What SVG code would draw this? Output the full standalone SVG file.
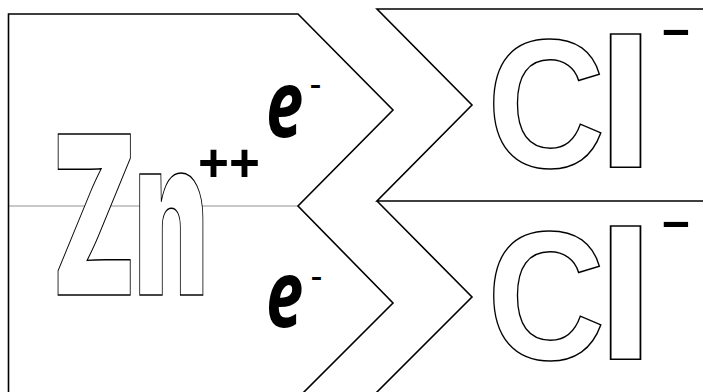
<svg xmlns="http://www.w3.org/2000/svg" width="703" height="392" viewBox="0 0 703 392">
<style>
.edge{fill:none;stroke:#000;stroke-width:1.6;stroke-linejoin:miter}
.divider{fill:none;stroke:#c8c8c8;stroke-width:1.8}
.outline{font-family:"Liberation Sans",Arial,sans-serif;font-weight:bold;fill:#fff;stroke:#000;stroke-width:1.5}
.heavy{font-family:Inter,"Liberation Sans",sans-serif;font-weight:900;fill:#fff;stroke:#000;stroke-width:1.5}
.plus{font-family:"Liberation Sans",Arial,sans-serif;font-weight:bold;fill:#000}
.elec{font-family:"Noto Sans","Liberation Sans",sans-serif;font-weight:bold;font-style:italic;fill:#000}
.sup{font-family:"Liberation Sans",Arial,sans-serif;fill:#000}
</style>
<rect width="703" height="392" fill="#fff"/>
<g id="connectors">
<path class="divider" d="M8.5,206 L298,206"/>
</g>
<g id="zn-piece">
<path class="edge" d="M8.5,393 L8.5,14 L298,14 L393,110 L298,206 L393,303 L297,399"/>
<text class="heavy" font-size="221" transform="translate(52,295) scale(0.55,1)">Z</text>
<text class="heavy" font-size="221" transform="translate(134,295) scale(0.52,1)">n</text>
<text class="plus" font-size="53" x="198" y="181">++</text>
<text class="elec" font-size="93" transform="translate(266,137) scale(0.72,1)">e</text>
<text class="sup" font-size="36" x="309.4" y="96">-</text>
<text class="elec" font-size="93" transform="translate(266,327) scale(0.72,1)">e</text>
<text class="sup" font-size="36" x="310.4" y="288">-</text>
</g>
<g id="cl-piece-top">
<path class="edge" d="M704,9 L377,9 L472,105 L377,201 L704,201"/>
<text class="outline" font-size="184" transform="translate(487,167) scale(0.89,1)">C</text>
<text class="outline" font-size="184" transform="translate(595.5,167) scale(1.18,1)">l</text>
<text class="plus" font-size="43" transform="translate(660,44) scale(2.23,1)">-</text>
</g>
<g id="cl-piece-bottom">
<path class="edge" d="M377,201 L472,297 L376,393"/>
<text class="outline" font-size="184" transform="translate(487,359) scale(0.89,1)">C</text>
<text class="outline" font-size="184" transform="translate(595.5,359) scale(1.18,1)">l</text>
<text class="plus" font-size="43" transform="translate(660,236) scale(2.23,1)">-</text>
</g>
</svg>
